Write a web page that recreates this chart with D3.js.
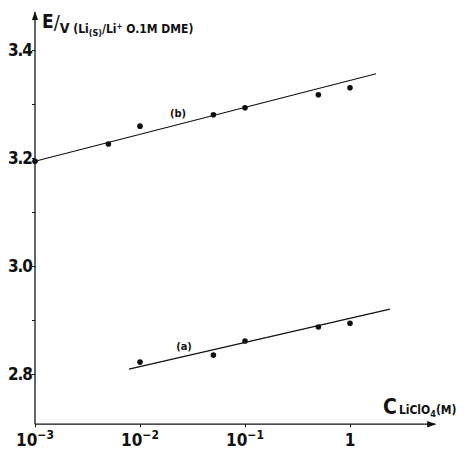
<!DOCTYPE html>
<html>
<head>
<meta charset="utf-8">
<script src="https://cdn.jsdelivr.net/npm/d3@7"></script>
<style>
  body { margin: 0; background: #fff; }
  svg { display: block; }
  text { font-family: "DejaVu Sans Condensed", "Liberation Sans Narrow", "Liberation Sans", Arial, sans-serif; font-weight: bold; fill: #111; }
</style>
</head>
<body>
<div id="chart"></div>
<script>
// concentrations of LiClO4 (M)
const concB = [0.001, 0.005, 0.01, 0.05, 0.1, 0.5, 1]
const potB  = [3.194, 3.226, 3.259, 3.280, 3.293, 3.317, 3.330]
const concA = [0.01, 0.05, 0.1, 0.5, 1]
const potA  = [2.822, 2.835, 2.861, 2.887, 2.894]
// fitted lines, end points [conc, E]
const fitB = [[0.001, 3.194], [1.77, 3.356]]
const fitA = [[0.00785, 2.809], [2.4, 2.920]]
const xTicks = [0.001, 0.01, 0.1, 1]
const xTickLabels = [["10", "\u22123"], ["10", "\u22122"], ["10", "\u22121"], ["1", ""]]
const yMajor = [2.8, 3.0, 3.2, 3.4]
const yMinor = [2.9, 3.1, 3.3]

const width = 471, height = 450

const svg = d3.select("#chart").append("svg")
    .attr("width", width)
    .attr("height", height)

const x = d3.scaleLog().domain([0.001, 1]).range([35, 350])
const y = d3.scaleLinear().domain([2.8, 3.4]).range([374, 50])

const xEnd = 6.5, yLow = 2.707, yTop = 3.47

// axes lines with arrows
svg.append("defs").append("marker")
    .attr("id", "arrow")
    .attr("viewBox", "0 0 10 10")
    .attr("refX", 9).attr("refY", 5)
    .attr("markerWidth", 7).attr("markerHeight", 7)
    .attr("orient", "auto")
  .append("path")
    .attr("d", "M0,1.5L10,5L0,8.5Z")
    .attr("fill", "#111")

svg.append("line")
    .attr("x1", x(0.001)).attr("y1", y(yLow))
    .attr("x2", x(xEnd)).attr("y2", y(yLow))
    .attr("stroke", "#111").attr("stroke-width", 1.3)
    .attr("marker-end", "url(#arrow)")

svg.append("line")
    .attr("x1", x(0.001)).attr("y1", y(yLow))
    .attr("x2", x(0.001)).attr("y2", y(yTop))
    .attr("stroke", "#111").attr("stroke-width", 1.3)
    .attr("marker-end", "url(#arrow)")

// y axis ticks
const yAxis = svg.append("g")
    .attr("transform", `translate(${x(0.001)},0)`)
    .call(d3.axisLeft(y).tickValues(yMajor.concat(yMinor)).tickSize(3)
        .tickFormat(d => yMajor.includes(d) ? d3.format(".1f")(d) : ""))
yAxis.attr("font-family", null).attr("font-size", null)
yAxis.select(".domain").remove()
yAxis.selectAll("line").attr("stroke", "#111")
yAxis.selectAll("text")
    .attr("x", -3)
    .attr("dy", "0.35em")
    .attr("fill", "#111")
    .style("font-size", "17px")
    .style("font-weight", "bold")
    .style("letter-spacing", "-1px")

// x axis ticks
const xAxis = svg.append("g")
    .attr("transform", `translate(0,${y(yLow)})`)
    .call(d3.axisBottom(x).tickValues(xTicks).tickSize(3).tickFormat(""))
xAxis.select(".domain").remove()
xAxis.selectAll("line").attr("stroke", "#111")

const xl = svg.append("g").selectAll("text")
    .data(xTicks)
    .join("text")
    .attr("x", d => x(d))
    .attr("y", 446)
    .attr("text-anchor", "middle")
    .style("font-size", "17px")
xl.append("tspan").text((d, i) => xTickLabels[i][0])
xl.append("tspan")
    .attr("dy", -7)
    .style("font-size", "12px")
    .text((d, i) => xTickLabels[i][1])

// fitted lines
const line = d3.line().x(d => x(d[0])).y(d => y(d[1]))
svg.append("path").datum(fitB).attr("d", line)
    .attr("fill", "none").attr("stroke", "#111").attr("stroke-width", 1.2)
svg.append("path").datum(fitA).attr("d", line)
    .attr("fill", "none").attr("stroke", "#111").attr("stroke-width", 1.2)

// points
svg.append("g").selectAll("circle")
    .data(concB.map((c, i) => [c, potB[i]]))
    .join("circle")
    .attr("cx", d => x(d[0])).attr("cy", d => y(d[1]))
    .attr("r", 2.8).attr("fill", "#111")
svg.append("g").selectAll("circle")
    .data(concA.map((c, i) => [c, potA[i]]))
    .join("circle")
    .attr("cx", d => x(d[0])).attr("cy", d => y(d[1]))
    .attr("r", 2.8).attr("fill", "#111")

// series labels
svg.append("text").attr("x", 178).attr("y", 117)
    .attr("text-anchor", "middle").style("font-size", "11px").text("(b)")
svg.append("text").attr("x", 184).attr("y", 350)
    .attr("text-anchor", "middle").style("font-size", "11px").text("(a)")

// y title
const yt = svg.append("text").attr("x", 42).attr("y", 28)
yt.append("tspan").style("font-size", "19px").text("E")
yt.append("tspan").attr("dy", 1).style("font-size", "20px").style("font-weight", "normal").text("/")
yt.append("tspan").attr("dy", 4).style("font-size", "14px").text("V")
yt.append("tspan").style("font-size", "12px").text(" (Li")
yt.append("tspan").attr("dy", 3).style("font-size", "9px").text("(S)")
yt.append("tspan").attr("dy", -3).style("font-size", "12px").text("/Li")
yt.append("tspan").attr("dy", -4).style("font-size", "8px").text("+")
yt.append("tspan").attr("dy", 4).style("font-size", "12px").text(" O.1M DME)")

// x title
const xt = svg.append("text").attr("x", 383).attr("y", 414)
xt.append("tspan").style("font-size", "21px").text("C")
xt.append("tspan").attr("dx", 2).style("font-size", "12px").text("LiClO")
xt.append("tspan").attr("dy", 3).style("font-size", "9px").text("4")
xt.append("tspan").attr("dy", -3).style("font-size", "12px").text("(M)")
</script>
</body>
</html>
